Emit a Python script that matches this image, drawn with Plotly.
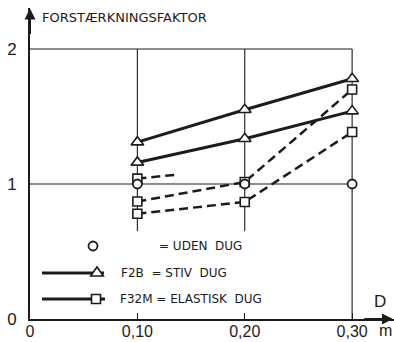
import plotly.graph_objects as go

# ---- data ----
D = [0.10, 0.20, 0.30]
uden_dug = [1.00, 1.00, 1.00]
stiv_upper = [1.31, 1.55, 1.78]
stiv_lower = [1.16, 1.335, 1.54]
elast_upper = [0.87, 1.015, 1.70]
elast_lower = [0.78, 0.867, 1.385]
elast_stub_x = [0.10, 0.138]
elast_stub_y = [1.04, 1.07]

x_ticks = [0, 0.10, 0.20, 0.30]
x_ticktext = ["0", "0,10", "0,20", "0,30"]
y_ticks = [0, 1, 2]
y_ticktext = ["0", "1", "2"]

INK = "#1c1c1c"
W, H = 394, 342
L, R, T, B = 30, 0, 8, 23
PW, PH = W - L - R, H - T - B


def pxx(x):
    return (x - L) / PW


def pxy(y):
    return (T + PH - y) / PH


fig = go.Figure()

solid = dict(color=INK, width=3)
dashed = dict(color=INK, width=2.5, dash="9px,5px")
tri = dict(symbol="triangle-up", size=11, color="white", line=dict(color=INK, width=1.6))
sq = dict(symbol="square", size=9, color="white", line=dict(color=INK, width=1.6))
circ = dict(symbol="circle", size=9, color="white", line=dict(color=INK, width=1.8))

fig.add_trace(go.Scatter(x=D, y=elast_upper, mode="lines+markers", line=dashed, marker=sq))
fig.add_trace(go.Scatter(x=D, y=elast_lower, mode="lines+markers", line=dashed, marker=sq))
fig.add_trace(go.Scatter(x=elast_stub_x, y=elast_stub_y, mode="lines", line=dashed))
fig.add_trace(go.Scatter(x=elast_stub_x[:1], y=elast_stub_y[:1], mode="markers", marker=sq))
fig.add_trace(go.Scatter(x=D, y=uden_dug, mode="markers", marker=circ))
fig.add_trace(go.Scatter(x=D, y=stiv_lower, mode="lines+markers", line=solid, marker=tri))
fig.add_trace(go.Scatter(x=D, y=stiv_upper, mode="lines+markers", line=solid, marker=tri))

shapes = []
grid = dict(color=INK, width=1.1)
# horizontal reference lines
for yv in [1, 2]:
    shapes.append(dict(type="line", xref="x", yref="y", x0=0, x1=0.30, y0=yv, y1=yv,
                       line=grid, layer="below"))
# vertical reference lines
for xv, ybot in [(0.10, 0.65), (0.20, 0.65), (0.30, 0)]:
    shapes.append(dict(type="line", xref="x", yref="y", x0=xv, x1=xv, y0=ybot, y1=2,
                       line=grid, layer="below"))

# ---- hand-drawn legend ----
leg_rows = [246, 273, 299]
# row 1: circle only
shapes.append(dict(type="circle", xref="paper", yref="paper", xsizemode="pixel", ysizemode="pixel",
                   xanchor=pxx(93), yanchor=pxy(leg_rows[0]), x0=-4.5, x1=4.5, y0=-4.5, y1=4.5,
                   line=dict(color=INK, width=1.8), fillcolor="white"))
# row 2: line + triangle
shapes.append(dict(type="line", xref="paper", yref="paper", x0=pxx(42), x1=pxx(104),
                   y0=pxy(leg_rows[1]), y1=pxy(leg_rows[1]), line=dict(color=INK, width=3)))
shapes.append(dict(type="path", xref="paper", yref="paper", xsizemode="pixel", ysizemode="pixel",
                   xanchor=pxx(97), yanchor=pxy(leg_rows[1]),
                   path="M -6.3,-3 L 6.3,-3 L 0,6 Z",
                   line=dict(color=INK, width=1.6), fillcolor="white"))
# row 3: line + square
shapes.append(dict(type="line", xref="paper", yref="paper", x0=pxx(42), x1=pxx(105),
                   y0=pxy(leg_rows[2]), y1=pxy(leg_rows[2]), line=dict(color=INK, width=3)))
shapes.append(dict(type="rect", xref="paper", yref="paper", xsizemode="pixel", ysizemode="pixel",
                   xanchor=pxx(96), yanchor=pxy(leg_rows[2]), x0=-4.5, x1=4.5, y0=-4.5, y1=4.5,
                   line=dict(color=INK, width=1.6), fillcolor="white"))

lab_font = dict(family="DejaVu Sans", size=12, color=INK)
title_font = dict(family="DejaVu Sans", size=13, color=INK)
big_font = dict(family="Liberation Sans", size=17, color=INK)
tick_font = dict(family="Liberation Sans", size=16, color=INK)
annotations = [
    dict(xref="paper", yref="paper", x=pxx(157), y=pxy(leg_rows[0]), text="= UDEN  DUG",
         showarrow=False, xanchor="left", yanchor="middle", font=lab_font),
    dict(xref="paper", yref="paper", x=pxx(119), y=pxy(leg_rows[1]), text="F2B  = STIV  DUG",
         showarrow=False, xanchor="left", yanchor="middle", font=lab_font),
    dict(xref="paper", yref="paper", x=pxx(118), y=pxy(leg_rows[2]), text="F32M = ELASTISK  DUG",
         showarrow=False, xanchor="left", yanchor="middle", font=lab_font),
    dict(xref="paper", yref="paper", x=pxx(40), y=pxy(17), text="FORSTÆRKNINGSFAKTOR",
         showarrow=False, xanchor="left", yanchor="middle", font=title_font),
    dict(xref="paper", yref="paper", x=pxx(380), y=pxy(301), text="D",
         showarrow=False, xanchor="center", yanchor="middle", font=big_font),
    dict(xref="paper", yref="paper", x=pxx(385), y=pxy(330), text="m",
         showarrow=False, xanchor="center", yanchor="middle", font=tick_font),
    # axis arrowheads
    dict(xref="x", yref="y", axref="x", ayref="y", x=0, y=2.30, ax=0, ay=2.1, text="",
         showarrow=True, arrowhead=2, arrowsize=1.1, arrowwidth=2, arrowcolor=INK),
    dict(xref="x", yref="y", axref="x", ayref="y", x=0.338, y=0, ax=0.31, ay=0, text="",
         showarrow=True, arrowhead=2, arrowsize=1.1, arrowwidth=2, arrowcolor=INK),
]

fig.update_layout(
    width=W, height=H, autosize=False,
    margin=dict(l=L, r=R, t=T, b=B),
    paper_bgcolor="white", plot_bgcolor="white",
    showlegend=False,
    shapes=shapes, annotations=annotations,
    xaxis=dict(range=[0, 0.339], tickvals=x_ticks, ticktext=x_ticktext, showgrid=False,
               zeroline=False, showline=True, linecolor=INK, linewidth=2,
               ticks="inside", ticklen=6, tickwidth=1.2, tickcolor=INK,
               tickfont=tick_font, ticklabelstandoff=-3, automargin=False, fixedrange=True),
    yaxis=dict(range=[0, 2.304], tickvals=y_ticks, ticktext=y_ticktext, showgrid=False,
               zeroline=False, showline=True, linecolor=INK, linewidth=2,
               ticks="", tickfont=big_font, ticklabelstandoff=8, automargin=False,
               fixedrange=True),
)

fig.write_html("out.html")
